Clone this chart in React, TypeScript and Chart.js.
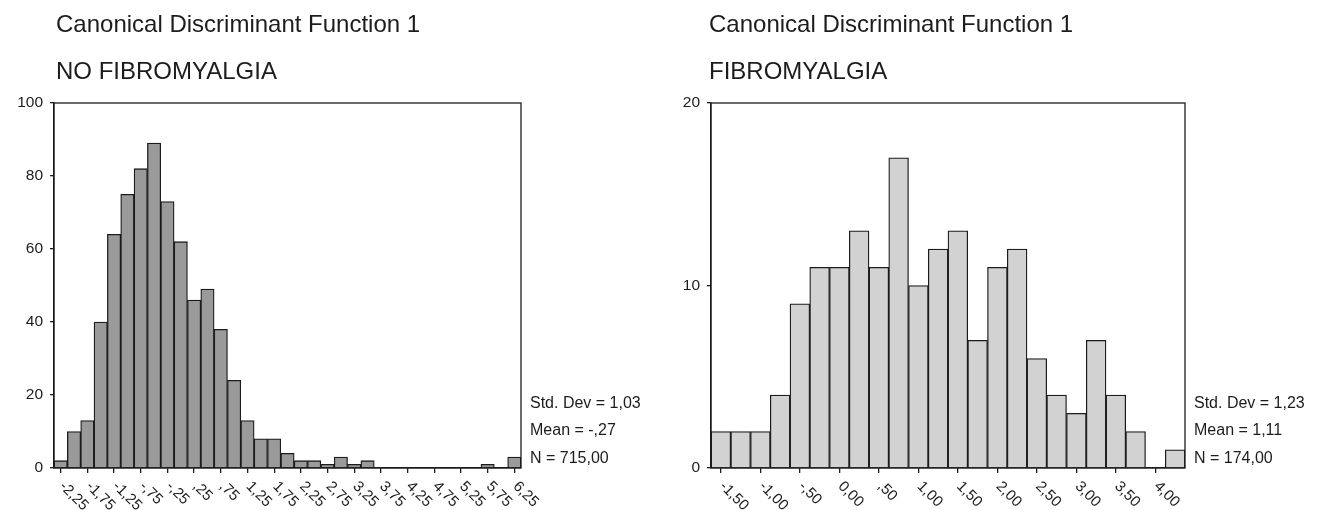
import React, { useEffect, useRef } from "react";
import { Chart, registerables } from "chart.js";

Chart.register(...registerables);

const FONT = '"Liberation Sans", Arial, Helvetica, sans-serif';
const INK = "#1c1c1c";

// ---------- Left panel: NO FIBROMYALGIA ----------
const leftTitle = "Canonical Discriminant Function 1";
const leftSubtitle = "NO FIBROMYALGIA";
const leftBins = [
  -2.25, -2.0, -1.75, -1.5, -1.25, -1.0, -0.75, -0.5, -0.25, 0.0, 0.25, 0.5,
  0.75, 1.0, 1.25, 1.5, 1.75, 2.0, 2.25, 2.5, 2.75, 3.0, 3.25, 3.5, 3.75, 4.0,
  4.25, 4.5, 4.75, 5.0, 5.25, 5.5, 5.75, 6.0, 6.25,
];
const leftCounts = [
  2, 10, 13, 40, 64, 75, 82, 89, 73, 62, 46, 49, 38, 24, 13, 8, 8, 4, 2, 2, 1,
  3, 1, 2, 0, 0, 0, 0, 0, 0, 0, 0, 1, 0, 3,
];
const leftTickValues = [
  -2.25, -1.75, -1.25, -0.75, -0.25, 0.25, 0.75, 1.25, 1.75, 2.25, 2.75, 3.25,
  3.75, 4.25, 4.75, 5.25, 5.75, 6.25,
];
const leftTickLabels = [
  "-2,25", "-1,75", "-1,25", "-,75", "-,25", ",25", ",75", "1,25", "1,75",
  "2,25", "2,75", "3,25", "3,75", "4,25", "4,75", "5,25", "5,75", "6,25",
];
const leftYMax = 100;
const leftYStep = 20;
const leftStats = ["Std. Dev = 1,03", "Mean = -,27", "N = 715,00"];

// ---------- Right panel: FIBROMYALGIA ----------
const rightTitle = "Canonical Discriminant Function 1";
const rightSubtitle = "FIBROMYALGIA";
const rightBins = [
  -1.5, -1.25, -1.0, -0.75, -0.5, -0.25, 0.0, 0.25, 0.5, 0.75, 1.0, 1.25, 1.5,
  1.75, 2.0, 2.25, 2.5, 2.75, 3.0, 3.25, 3.5, 3.75, 4.0, 4.25,
];
const rightCounts = [
  2, 2, 2, 4, 9, 11, 11, 13, 11, 17, 10, 12, 13, 7, 11, 12, 6, 4, 3, 7, 4, 2, 0,
  1,
];
const rightTickValues = [
  -1.5, -1.0, -0.5, 0.0, 0.5, 1.0, 1.5, 2.0, 2.5, 3.0, 3.5, 4.0,
];
const rightTickLabels = [
  "-1,50", "-1,00", "-,50", "0,00", ",50", "1,00", "1,50", "2,00", "2,50",
  "3,00", "3,50", "4,00",
];
const rightYMax = 20;
const rightYStep = 10;
const rightStats = ["Std. Dev = 1,23", "Mean = 1,11", "N = 174,00"];

type PanelProps = {
  title: string;
  subtitle: string;
  bins: number[];
  counts: number[];
  tickValues: number[];
  tickLabels: string[];
  yMax: number;
  yStep: number;
  stats: string[];
  fill: string;
  canvasLeft: number;
  canvasWidth: number;
  axisWidth: number;
  padRight: number;
  titleDx: number;
};

function Panel(p: PanelProps) {
  const ref = useRef<HTMLCanvasElement | null>(null);

  useEffect(() => {
    if (!ref.current) return;
    const tickIdx = new Set(p.tickValues.map((v) => p.bins.indexOf(v)));

    const overlay = {
      id: "overlay",
      afterDraw(chart: any) {
        const { ctx, chartArea: ca, scales } = chart;
        const xs = scales.x;
        ctx.save();
        // frame
        ctx.strokeStyle = INK;
        ctx.lineWidth = 1.3;
        ctx.strokeRect(ca.left, ca.top, ca.right - ca.left, ca.bottom - ca.top);

        // rotated x tick labels
        ctx.fillStyle = INK;
        ctx.font = `15px ${FONT}`;
        ctx.textAlign = "left";
        ctx.textBaseline = "middle";
        p.tickValues.forEach((v, k) => {
          const idx = p.bins.indexOf(v);
          const px = xs.getPixelForValue(idx);
          ctx.save();
          ctx.translate(px + 1, ca.bottom + 16);
          ctx.rotate(Math.PI / 4);
          ctx.fillText(p.tickLabels[k], 0, 0);
          ctx.restore();
        });

        // titles
        ctx.textBaseline = "alphabetic";
        ctx.font = `24px ${FONT}`;
        ctx.fillText(p.title, ca.left + p.titleDx, 32);
        ctx.fillText(p.subtitle, ca.left + p.titleDx, 79);

        // stats
        ctx.font = `16px ${FONT}`;
        const sx = ca.right + 9;
        const ys = [407.5, 435, 462.5];
        p.stats.forEach((s, i) => ctx.fillText(s, sx, ys[i]));
        ctx.restore();
      },
    };

    const chart = new Chart(ref.current, {
      type: "bar",
      data: {
        labels: p.bins.map((b) => b.toFixed(2)),
        datasets: [
          {
            data: p.counts,
            backgroundColor: p.fill,
            borderColor: INK,
            borderWidth: 1.3,
            barPercentage: 1,
            categoryPercentage: 1,
          },
        ],
      },
      options: {
        responsive: false,
        animation: false,
        events: [],
        layout: { padding: { left: 0, right: p.padRight, top: 103, bottom: 0 } },
        plugins: {
          legend: { display: false },
          title: { display: false },
          tooltip: { enabled: false },
        },
        scales: {
          x: {
            offset: true,
            ticks: { display: false, autoSkip: false },
            grid: {
              offset: false,
              drawOnChartArea: false,
              drawTicks: true,
              tickLength: 5,
              lineWidth: 1.3,
              color: (c: any) => (tickIdx.has(c.index) ? INK : "rgba(0,0,0,0)"),
            },
            border: { display: true, color: INK, width: 1.3 },
            afterFit: (s: any) => {
              s.height = 42;
            },
          },
          y: {
            min: 0,
            max: p.yMax,
            ticks: {
              stepSize: p.yStep,
              color: INK,
              padding: 7,
              font: { size: 15.5, family: FONT },
            },
            grid: {
              drawOnChartArea: false,
              drawTicks: true,
              tickLength: 4,
              lineWidth: 1.3,
              color: INK,
            },
            border: { display: true, color: INK, width: 1.3 },
            afterFit: (s: any) => {
              s.width = p.axisWidth;
            },
          },
        },
      },
      plugins: [overlay],
    });
    return () => chart.destroy();
  }, []);

  return (
    <canvas
      ref={ref}
      width={p.canvasWidth}
      height={510}
      style={{
        position: "absolute",
        left: p.canvasLeft,
        top: 0,
        width: p.canvasWidth,
        height: 510,
      }}
    />
  );
}

export default function App() {
  return (
    <div
      style={{
        position: "absolute",
        left: 0,
        top: 0,
        width: 1320,
        height: 510,
        background: "#fff",
        overflow: "hidden",
      }}
    >
      <Panel
        title={leftTitle}
        subtitle={leftSubtitle}
        bins={leftBins}
        counts={leftCounts}
        tickValues={leftTickValues}
        tickLabels={leftTickLabels}
        yMax={leftYMax}
        yStep={leftYStep}
        stats={leftStats}
        fill="#9a9a9a"
        canvasLeft={0}
        canvasWidth={660}
        axisWidth={54}
        padRight={139}
        titleDx={2}
      />
      <Panel
        title={rightTitle}
        subtitle={rightSubtitle}
        bins={rightBins}
        counts={rightCounts}
        tickValues={rightTickValues}
        tickLabels={rightTickLabels}
        yMax={rightYMax}
        yStep={rightYStep}
        stats={rightStats}
        fill="#d2d2d2"
        canvasLeft={660}
        canvasWidth={660}
        axisWidth={51}
        padRight={135}
        titleDx={-2}
      />
    </div>
  );
}
